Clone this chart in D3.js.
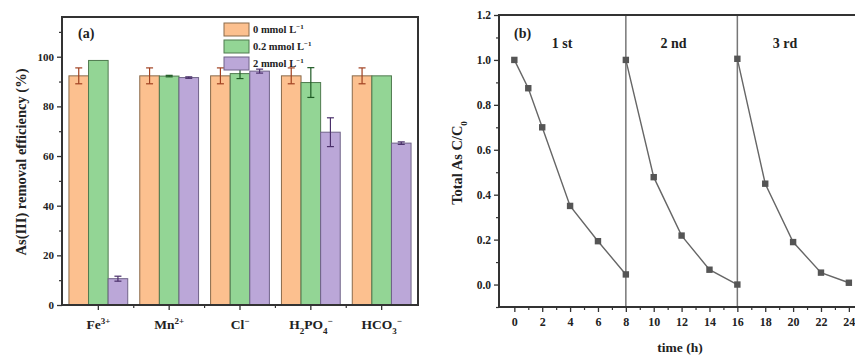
<!DOCTYPE html>
<html><head><meta charset="utf-8">
<script src="https://cdn.jsdelivr.net/npm/d3@7"></script>
<style>
body{margin:0;background:#fff;}
text{font-family:"Liberation Serif","Times New Roman",serif;font-weight:bold;fill:#222;}
</style></head>
<body><svg id="c" width="855" height="356"></svg>
<script>
// ---------- Panel (a) data ----------
const categories = ["Fe3+", "Mn2+", "Cl-", "H2PO4-", "HCO3-"];
const catLabels = [
  [["Fe",""],["3+","sup"]],
  [["Mn",""],["2+","sup"]],
  [["Cl",""],["−","sup"]],
  [["H",""],["2","sub"],["PO",""],["4","sub"],["−","sup"]],
  [["HCO",""],["3","sub"],["−","sup"]]
];
const seriesNames = ["0 mmol L", "0.2 mmol L", "2 mmol L"];
const s0 = [92.3, 92.3, 92.3, 92.3, 92.3];
const e0 = [3.2, 3.2, 3.2, 3.2, 3.2];
const s1 = [98.5, 92.2, 93.2, 89.6, 92.3];
const e1 = [0, 0.3, 2.0, 6.0, 0];
const s2 = [10.6, 91.6, 94.2, 69.6, 65.2];
const e2 = [1.0, 0.3, 0.8, 5.8, 0.5];
const yTicksA = [0, 20, 40, 60, 80, 100];
const yMinorA = [10, 30, 50, 70, 90, 110];

// ---------- Panel (b) data ----------
const cycle1T = [0, 1, 2, 4, 6, 8];
const cycle1V = [1.0, 0.874, 0.70, 0.35, 0.193, 0.045];
const cycle2T = [8, 10, 12, 14, 16];
const cycle2V = [1.0, 0.478, 0.218, 0.066, 0.0];
const cycle3T = [16, 18, 20, 22, 24];
const cycle3V = [1.005, 0.449, 0.189, 0.053, 0.008];
const cycleNames = ["1 st", "2 nd", "3 rd"];
const cycleLabelT = [4, 12, 20];
const dividerT = [8, 16];
const xTicksB = [0, 2, 4, 6, 8, 10, 12, 14, 16, 18, 20, 22, 24];
const yTicksB = [0.0, 0.2, 0.4, 0.6, 0.8, 1.0, 1.2];

const svg = d3.select("#c");

// ================= Panel (a) =================
const fills = ["#fcc08f", "#93d595", "#bba7d8"];
const strokes = ["#8a6a4a", "#4f7a4f", "#6f6388"];
const errCol = ["#a04020", "#1f5a25", "#4a2f6a"];
const A = {l: 62, r: 418, t: 17, b: 305};
const xA = d3.scaleBand().domain(categories).range([A.l, A.r]).paddingInner(0.17).paddingOuter(0.098);
const xS = d3.scaleBand().domain([0,1,2]).range([0, xA.bandwidth()]);
const yA = d3.scaleLinear().domain([0, 116]).range([A.b, A.t]);
const series = [s0, s1, s2];
const errs = [e0, e1, e2];

const gA = svg.append("g");
series.forEach((s, si) => {
  gA.selectAll(null).data(categories).enter().append("rect")
    .attr("x", d => xA(d) + xS(si))
    .attr("y", (d,i) => yA(s[i]))
    .attr("width", xS.bandwidth())
    .attr("height", (d,i) => yA(0) - yA(s[i]))
    .attr("fill", fills[si]).attr("stroke", strokes[si]).attr("stroke-width", 1);
});
series.forEach((s, si) => {
  categories.forEach((c, i) => {
    const e = errs[si][i];
    if (e <= 0) return;
    const cx = xA(c) + xS(si) + xS.bandwidth()/2;
    const g = gA.append("g").attr("stroke", errCol[si]).attr("stroke-width", 1.2);
    g.append("line").attr("x1", cx).attr("x2", cx).attr("y1", yA(s[i]+e)).attr("y2", yA(s[i]-e));
    g.append("line").attr("x1", cx-3.5).attr("x2", cx+3.5).attr("y1", yA(s[i]+e)).attr("y2", yA(s[i]+e));
    g.append("line").attr("x1", cx-3.5).attr("x2", cx+3.5).attr("y1", yA(s[i]-e)).attr("y2", yA(s[i]-e));
  });
});
// frame
gA.append("rect").attr("x", A.l).attr("y", A.t).attr("width", A.r-A.l).attr("height", A.b-A.t)
  .attr("fill", "none").attr("stroke", "#333").attr("stroke-width", 2);
// y axis
const yAxA = d3.axisLeft(yA).tickValues(yTicksA).tickSize(5).tickPadding(3).tickFormat(d3.format("d"));
const gyA = gA.append("g").attr("transform", `translate(${A.l},0)`).call(yAxA);
gyA.select(".domain").remove();
gyA.selectAll("line").attr("stroke", "#333").attr("stroke-width", 1.3);
gyA.selectAll("text").style("font-size", "11px").attr("fill", "#333");
gA.append("g").attr("transform", `translate(${A.l},0)`)
  .call(d3.axisLeft(yA).tickValues(yMinorA).tickSize(3).tickFormat(""))
  .call(g => { g.select(".domain").remove(); g.selectAll("line").attr("stroke", "#333").attr("stroke-width", 1.2); });
// x ticks
const gxA = gA.append("g").attr("transform", `translate(0,${A.b})`);
gxA.selectAll(null).data(categories).enter().append("line")
  .attr("x1", d => xA(d) + xA.bandwidth()/2).attr("x2", d => xA(d) + xA.bandwidth()/2)
  .attr("y1", 0).attr("y2", 5).attr("stroke", "#333").attr("stroke-width", 1.3);
gxA.selectAll(null).data(categories.slice(1)).enter().append("line")
  .attr("x1", d => xA(d) - xA.step()*xA.paddingInner()/2).attr("x2", d => xA(d) - xA.step()*xA.paddingInner()/2)
  .attr("y1", 0).attr("y2", 3).attr("stroke", "#333").attr("stroke-width", 1.2);
// x labels with sub/superscripts
categories.forEach((c, i) => {
  const t = gA.append("text").attr("x", xA(c) + xA.bandwidth()/2).attr("y", 329)
    .attr("text-anchor", "middle").style("font-size", "13.5px");
  catLabels[i].forEach(([txt, kind]) => {
    const sp = t.append("tspan").text(txt);
    if (kind === "sup") sp.attr("baseline-shift", "super").style("font-size", "9px");
    if (kind === "sub") sp.attr("baseline-shift", "sub").style("font-size", "9px");
  });
});
// y label
gA.append("text").attr("transform", "translate(26,162) rotate(-90)").attr("text-anchor", "middle")
  .style("font-size", "14.5px").text("As(III) removal efficiency (%)");
// (a)
gA.append("text").attr("x", 78).attr("y", 38).style("font-size", "14px").text("(a)");
// legend
seriesNames.forEach((n, i) => {
  const ly = 23 + i*17;
  gA.append("rect").attr("x", 224).attr("y", ly).attr("width", 25).attr("height", 13)
    .attr("fill", fills[i]).attr("stroke", strokes[i]).attr("stroke-width", 1);
  const t = gA.append("text").attr("x", 253).attr("y", ly + 10).style("font-size", "10.5px");
  t.append("tspan").text(n);
  t.append("tspan").attr("baseline-shift", "super").style("font-size", "7px").text("−1");
});

// ================= Panel (b) =================
const B = {l: 499, t: 15, b: 307};
const xB = d3.scaleLinear().domain([-1, 25]).range([500.4, 862.8]);
const yB = d3.scaleLinear().domain([-0.1, 1.2]).range([B.b, B.t]);
const gB = svg.append("g");
// dividers
gB.selectAll(null).data(dividerT).enter().append("line")
  .attr("x1", d => xB(d)).attr("x2", d => xB(d)).attr("y1", B.t).attr("y2", B.b)
  .attr("stroke", "#777").attr("stroke-width", 1.5);
// lines & markers
const line = d3.line().x(d => xB(d[0])).y(d => yB(d[1]));
[[cycle1T, cycle1V], [cycle2T, cycle2V], [cycle3T, cycle3V]].forEach(([T, V]) => {
  const pts = T.map((t, i) => [t, V[i]]);
  gB.append("path").datum(pts).attr("d", line).attr("fill", "none").attr("stroke", "#666").attr("stroke-width", 1.4);
  gB.selectAll(null).data(pts).enter().append("rect")
    .attr("x", d => xB(d[0]) - 3.2).attr("y", d => yB(d[1]) - 3.2)
    .attr("width", 6.4).attr("height", 6.4).attr("fill", "#555");
});
// frame
gB.append("rect").attr("x", B.l).attr("y", B.t).attr("width", 400).attr("height", B.b - B.t)
  .attr("fill", "none").attr("stroke", "#333").attr("stroke-width", 2);
// y axis
const gyB = gB.append("g").attr("transform", `translate(${B.l},0)`)
  .call(d3.axisLeft(yB).tickValues(yTicksB).tickSize(5).tickPadding(3).tickFormat(d3.format(".1f")));
gyB.select(".domain").remove();
gyB.selectAll("line").attr("stroke", "#333").attr("stroke-width", 1.3);
gyB.selectAll("text").style("font-size", "11.5px").attr("fill", "#333");
gB.append("g").attr("transform", `translate(${B.l},0)`)
  .call(d3.axisLeft(yB).tickValues(d3.range(-0.1, 1.2, 0.2).map(v => +v.toFixed(1))).tickSize(3).tickFormat(""))
  .call(g => { g.select(".domain").remove(); g.selectAll("line").attr("stroke", "#333").attr("stroke-width", 1.2); });
// x axis
const gxB = gB.append("g").attr("transform", `translate(0,${B.b})`)
  .call(d3.axisBottom(xB).tickValues(xTicksB).tickSize(5).tickPadding(5).tickFormat(d3.format("d")));
gxB.select(".domain").remove();
gxB.selectAll("line").attr("stroke", "#333").attr("stroke-width", 1.3);
gxB.selectAll("text").style("font-size", "12px").attr("fill", "#333");
gB.append("g").attr("transform", `translate(0,${B.b})`)
  .call(d3.axisBottom(xB).tickValues(d3.range(1, 25, 2)).tickSize(3).tickFormat(""))
  .call(g => { g.select(".domain").remove(); g.selectAll("line").attr("stroke", "#333").attr("stroke-width", 1.2); });
// labels
gB.append("text").attr("x", 514).attr("y", 38).style("font-size", "14px").text("(b)");
cycleNames.forEach((n, i) => {
  gB.append("text").attr("x", xB(cycleLabelT[i]) - 8).attr("y", 48).attr("text-anchor", "middle")
    .style("font-size", "14px").text(n);
});
const yl = gB.append("text").attr("transform", "translate(462,163) rotate(-90)").attr("text-anchor", "middle")
  .style("font-size", "14.5px");
yl.append("tspan").text("Total As C/C");
yl.append("tspan").attr("baseline-shift", "sub").style("font-size", "9px").text("0");
gB.append("text").attr("x", 680).attr("y", 352).attr("text-anchor", "middle").style("font-size", "13.5px").text("time (h)");
</script>
</body></html>
